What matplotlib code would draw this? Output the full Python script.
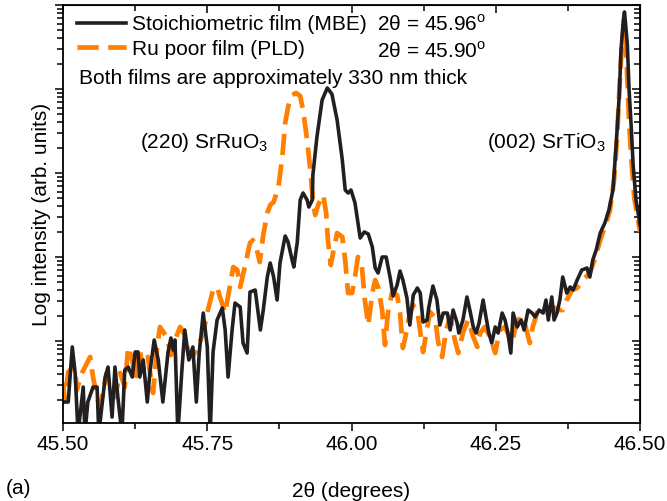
import matplotlib.pyplot as plt
import numpy as np
from matplotlib.ticker import MultipleLocator, NullFormatter, LogLocator

plt.rcParams['font.family'] = ['Liberation Sans', 'DejaVu Sans']
plt.rcParams['mathtext.fontset'] = 'custom'
plt.rcParams['mathtext.rm'] = 'Liberation Sans'
plt.rcParams['font.size'] = 15

# stoichiometric film (MBE): 2theta (deg), log10 intensity
mbe_2theta = [45.500, 45.509, 45.516, 45.521, 45.526, 45.535, 45.538, 45.543, 45.552, 45.559,
              45.562, 45.573, 45.578, 45.585, 45.590, 45.595, 45.602, 45.607, 45.613, 45.620,
              45.625, 45.630, 45.633, 45.639, 45.646, 45.651, 45.658, 45.665, 45.673, 45.682,
              45.687, 45.691, 45.694, 45.699, 45.706, 45.711, 45.718, 45.725, 45.731, 45.736,
              45.743, 45.750, 45.755, 45.760, 45.767, 45.776, 45.781, 45.786, 45.793, 45.798,
              45.807, 45.812, 45.819, 45.824, 45.833, 45.842, 45.847, 45.854, 45.859, 45.865,
              45.871, 45.876, 45.885, 45.890, 45.897, 45.900, 45.906, 45.911, 45.916, 45.923,
              45.926, 45.932, 45.933, 45.940, 45.949, 45.958, 45.966, 45.975, 45.984, 45.989,
              45.994, 45.999, 46.006, 46.015, 46.022, 46.029, 46.036, 46.041, 46.046, 46.053,
              46.060, 46.067, 46.072, 46.079, 46.084, 46.089, 46.096, 46.101, 46.107, 46.114,
              46.119, 46.124, 46.131, 46.134, 46.141, 46.148, 46.153, 46.159, 46.166, 46.171,
              46.176, 46.183, 46.186, 46.193, 46.200, 46.205, 46.211, 46.216, 46.221, 46.228,
              46.233, 46.238, 46.243, 46.249, 46.254, 46.261, 46.266, 46.271, 46.276, 46.280,
              46.287, 46.294, 46.299, 46.306, 46.313, 46.318, 46.325, 46.332, 46.337, 46.341,
              46.347, 46.351, 46.356, 46.361, 46.366, 46.373, 46.379, 46.384, 46.391, 46.399,
              46.408, 46.413, 46.418, 46.424, 46.431, 46.439, 46.446, 46.453, 46.458, 46.464,
              46.467, 46.471, 46.473, 46.474, 46.478, 46.481, 46.485, 46.488, 46.493, 46.500]
mbe_log = [0.274, 0.274, 0.929, 0.619, -0.1, 0.452, -0.1, 0.274, 0.452, 0.452,
           -0.1, 0.571, 0.690, 0.095, 0.690, 0.333, -0.1, 0.655, 0.690, 0.571,
           0.869, 0.869, 0.571, 0.774, 0.274, 0.655, 1.012, 0.774, 0.274, 0.869,
           1.036, 0.893, 1.012, -0.1, 0.655, 1.131, 0.774, 0.929, 0.274, 0.857,
           1.333, 0.929, -0.1, 0.869, 1.250, 1.393, 1.131, 0.571, 1.131, 1.452,
           1.405, 0.976, 0.857, 1.583, 1.607, 1.131, 1.369, 1.762, 1.929, 1.762,
           1.488, 1.929, 2.250, 2.179, 1.964, 1.881, 2.179, 2.679, 2.762, 2.679,
           2.595, 2.679, 2.976, 3.429, 3.869, 4.012, 3.940, 3.631, 3.155, 2.798,
           2.762, 2.798, 2.643, 2.226, 2.298, 2.274, 2.119, 1.869, 1.810, 2.000,
           2.000, 1.750, 1.536, 1.667, 1.833, 1.726, 1.512, 1.190, 1.548, 1.631,
           1.571, 1.226, 1.250, 1.405, 1.655, 1.488, 1.190, 1.333, 1.333, 1.131,
           1.369, 1.214, 1.095, 1.250, 1.524, 1.369, 1.167, 1.095, 1.214, 1.488,
           1.286, 1.095, 0.976, 1.167, 1.095, 1.333, 1.250, 1.095, 0.857, 1.333,
           1.167, 1.250, 1.131, 1.369, 1.333, 1.286, 1.369, 1.333, 1.488, 1.250,
           1.524, 1.250, 1.333, 1.488, 1.762, 1.571, 1.643, 1.607, 1.726, 1.845,
           1.869, 1.762, 1.964, 2.083, 2.286, 2.405, 2.560, 2.798, 3.274, 3.929,
           4.464, 4.821, 4.917, 4.845, 4.524, 3.988, 3.512, 3.095, 2.679, 2.381]

# Ru poor film (PLD)
pld_2theta = [45.500, 45.503, 45.509, 45.516, 45.521, 45.524, 45.531, 45.538, 45.547, 45.552,
              45.559, 45.564, 45.569, 45.576, 45.581, 45.590, 45.599, 45.607, 45.613, 45.620,
              45.625, 45.633, 45.639, 45.647, 45.656, 45.663, 45.668, 45.675, 45.680, 45.687,
              45.694, 45.703, 45.711, 45.718, 45.724, 45.734, 45.743, 45.751, 45.760, 45.767,
              45.772, 45.781, 45.789, 45.795, 45.802, 45.807, 45.815, 45.824, 45.829, 45.836,
              45.841, 45.847, 45.854, 45.859, 45.865, 45.873, 45.880, 45.885, 45.890, 45.897,
              45.904, 45.911, 45.916, 45.923, 45.928, 45.933, 45.937, 45.942, 45.951, 45.956,
              45.959, 45.964, 45.968, 45.975, 45.984, 45.989, 45.994, 46.001, 46.006, 46.011,
              46.018, 46.023, 46.029, 46.036, 46.041, 46.046, 46.053, 46.058, 46.063, 46.070,
              46.079, 46.084, 46.089, 46.096, 46.101, 46.107, 46.115, 46.124, 46.131, 46.136,
              46.145, 46.150, 46.157, 46.164, 46.171, 46.179, 46.185, 46.193, 46.202, 46.211,
              46.218, 46.223, 46.231, 46.240, 46.249, 46.257, 46.266, 46.278, 46.283, 46.292,
              46.300, 46.309, 46.314, 46.323, 46.332, 46.341, 46.349, 46.358, 46.366, 46.373,
              46.382, 46.391, 46.401, 46.413, 46.421, 46.431, 46.439, 46.448, 46.455, 46.460,
              46.465, 46.469, 46.473, 46.475, 46.478, 46.481, 46.485, 46.490, 46.500]
pld_log = [0.500, 0.298, 0.631, 0.679, 0.655, 0.417, 0.595, 0.690, 0.810, 0.571,
           0.333, 0.214, 0.381, 0.619, 0.417, 0.333, 0.619, 0.452, 0.929, 0.774,
           0.536, 0.893, 0.655, 0.810, 0.381, 0.929, 1.167, 1.095, 1.048, 0.833,
           1.012, 1.167, 1.071, 0.833, 0.810, 0.929, 1.095, 1.369, 1.607, 1.643,
           1.524, 1.333, 1.643, 1.881, 1.845, 1.643, 1.881, 2.167, 2.202, 2.083,
           1.940, 2.262, 2.524, 2.619, 2.655, 2.821, 3.190, 3.595, 3.786, 3.929,
           3.952, 3.917, 3.750, 3.393, 3.071, 2.679, 2.500, 2.619, 2.738, 2.524,
           2.202, 1.905, 2.048, 2.286, 2.238, 1.964, 1.571, 1.571, 1.762, 2.000,
           1.881, 1.488, 1.190, 1.571, 1.726, 1.643, 1.369, 0.952, 1.333, 1.571,
           1.548, 1.333, 0.917, 1.131, 1.333, 1.429, 1.310, 0.869, 1.155, 1.345,
           1.274, 0.988, 0.810, 1.131, 1.286, 1.012, 0.857, 1.095, 1.250, 1.048,
           0.929, 1.095, 1.167, 1.048, 0.857, 1.131, 1.167, 0.976, 1.131, 1.286,
           1.214, 0.976, 1.167, 1.369, 1.345, 1.333, 1.405, 1.369, 1.369, 1.488,
           1.607, 1.631, 1.726, 1.810, 1.964, 2.202, 2.357, 2.560, 2.917, 3.393,
           4.107, 4.583, 4.798, 4.600, 4.100, 3.600, 3.150, 2.700, 2.300]

fig = plt.figure(figsize=(6.67, 5.01), dpi=100)
ax = fig.add_axes([0.0945, 0.1557, 0.8651, 0.8343])

ax.plot(pld_2theta, 10 ** np.array(pld_log), color='#ff7f00', lw=3.4,
        dashes=(4.5, 2.0), label='Ru poor film (PLD)')
ax.plot(mbe_2theta, 10 ** np.array(mbe_log), color='#231f20', lw=2.6,
        label='Stoichiometric film (MBE)')

ax.set_yscale('log')
ax.set_xlim(45.5, 46.5)
ax.set_ylim(10 ** 0.024, 1e5)
ax.xaxis.set_major_locator(MultipleLocator(0.25))
ax.xaxis.set_minor_locator(MultipleLocator(0.125))
ax.xaxis.set_major_formatter(plt.FormatStrFormatter('%.2f'))
ax.yaxis.set_major_locator(LogLocator(base=10))
ax.yaxis.set_minor_locator(LogLocator(base=10, subs=np.arange(2, 10)))
ax.yaxis.set_major_formatter(NullFormatter())
ax.yaxis.set_minor_formatter(NullFormatter())
ax.tick_params(which='both', direction='out', width=1.1, top=False, right=False)
ax.tick_params(which='major', length=6)
ax.tick_params(which='minor', length=4)
ax.tick_params(axis='x', pad=3)
for s in ax.spines.values():
    s.set_linewidth(1.3)

top = ax.secondary_xaxis('top')
top.xaxis.set_major_locator(MultipleLocator(0.25))
top.xaxis.set_minor_locator(MultipleLocator(0.125))
top.tick_params(which='both', direction='in', width=1.1, labeltop=False)
top.tick_params(which='major', length=6)
top.tick_params(which='minor', length=4)
right = ax.secondary_yaxis('right')
right.yaxis.set_major_formatter(NullFormatter())
right.yaxis.set_minor_formatter(NullFormatter())
right.tick_params(which='both', direction='in', width=1.1, labelright=False)
right.tick_params(which='major', length=6)
right.tick_params(which='minor', length=4)

ax.set_xlabel('2θ (degrees)', labelpad=20)
ax.set_ylabel('Log intensity (arb. units)', labelpad=-1)

h, l = ax.get_legend_handles_labels()
ax.legend(h[::-1], l[::-1], loc='upper left', bbox_to_anchor=(0.024, 0.975),
          frameon=False, handlelength=2.35, handletextpad=0.3, labelspacing=0.25,
          borderpad=0, borderaxespad=0, fontsize=15)
ax.text(0.544, 0.954, '2θ = 45.96$^\\mathregular{o}$', transform=ax.transAxes,
        va='center', ha='left')
ax.text(0.544, 0.889, '2θ = 45.90$^\\mathregular{o}$', transform=ax.transAxes,
        va='center', ha='left')
ax.text(0.028, 0.825, 'Both films are approximately 330 nm thick',
        transform=ax.transAxes, va='center', ha='left')

ax.text(45.633, 10 ** 3.36, '(220) SrRuO$_\\mathregular{3}$', va='center', ha='left')
ax.text(46.235, 10 ** 3.36, '(002) SrTiO$_\\mathregular{3}$', va='center', ha='left')
fig.text(0.008, 0.025, '(a)', ha='left', va='center')

fig.savefig('out.png', dpi=100)
